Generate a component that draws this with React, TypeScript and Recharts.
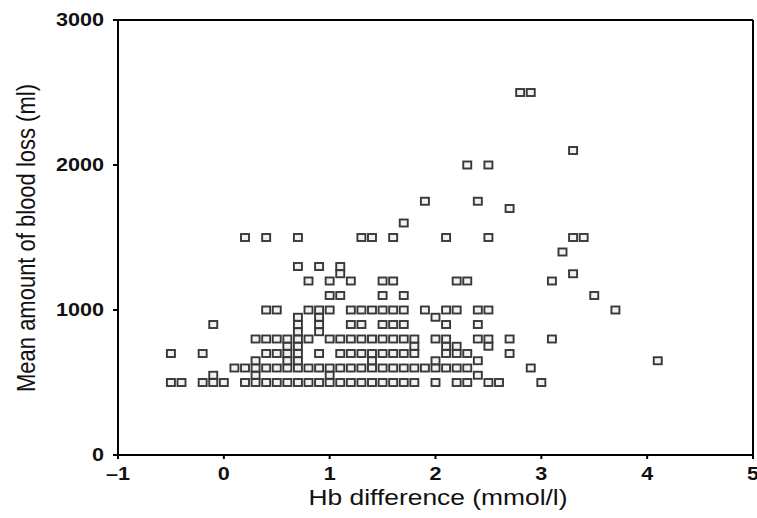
import { ScatterChart, Scatter, XAxis, YAxis, Label, ReferenceLine } from 'recharts';

// blood loss levels (ml) and the Hb differences (mmol/l) seen at each level
const LOSS_LEVELS = [500, 550, 600, 650, 700, 750, 800, 850, 900, 950, 1000, 1100, 1200, 1250, 1300, 1400, 1500, 1600, 1700, 1750, 2000, 2100, 2500];

const hbAt500 = [-0.5, -0.4, -0.2, -0.1, 0.0, 0.2, 0.3, 0.4, 0.5, 0.6, 0.7, 0.8, 0.9, 1.0, 1.1, 1.2, 1.3, 1.4, 1.5, 1.6, 1.7, 1.8, 2.0, 2.2, 2.3, 2.5, 2.6, 3.0];
const hbAt550 = [-0.1, 0.3, 1.0, 2.4];
const hbAt600 = [0.1, 0.2, 0.3, 0.4, 0.5, 0.6, 0.7, 0.8, 0.9, 1.0, 1.1, 1.2, 1.3, 1.4, 1.5, 1.6, 1.7, 1.8, 1.9, 2.0, 2.1, 2.2, 2.3, 2.9];
const hbAt650 = [0.3, 0.6, 0.7, 1.4, 2.0, 2.4, 4.1];
const hbAt700 = [-0.5, -0.2, 0.4, 0.5, 0.6, 0.7, 0.9, 1.1, 1.2, 1.3, 1.4, 1.5, 1.6, 1.7, 1.8, 2.1, 2.2, 2.3, 2.7];
const hbAt750 = [0.6, 0.7, 1.8, 2.1, 2.2, 2.5];
const hbAt800 = [0.3, 0.4, 0.5, 0.6, 0.7, 0.8, 1.0, 1.1, 1.2, 1.3, 1.4, 1.5, 1.6, 1.7, 1.8, 2.0, 2.1, 2.4, 2.5, 2.7, 3.1];
const hbAt850 = [0.7, 0.9];
const hbAt900 = [-0.1, 0.7, 0.9, 1.2, 1.3, 1.5, 1.6, 1.7, 2.1, 2.4];
const hbAt950 = [0.7, 0.9, 2.0];
const hbAt1000 = [0.4, 0.5, 0.8, 0.9, 1.0, 1.2, 1.3, 1.4, 1.5, 1.6, 1.7, 1.9, 2.1, 2.2, 2.4, 2.5, 3.7];
const hbAt1100 = [1.0, 1.1, 1.5, 1.7, 3.5];
const hbAt1200 = [0.8, 1.0, 1.2, 1.5, 1.6, 2.2, 2.3, 3.1];
const hbAt1250 = [1.1, 3.3];
const hbAt1300 = [0.7, 0.9, 1.1];
const hbAt1400 = [3.2];
const hbAt1500 = [0.2, 0.4, 0.7, 1.3, 1.4, 1.6, 2.1, 2.5, 3.3, 3.4];
const hbAt1600 = [1.7];
const hbAt1700 = [2.7];
const hbAt1750 = [1.9, 2.4];
const hbAt2000 = [2.3, 2.5];
const hbAt2100 = [3.3];
const hbAt2500 = [2.8, 2.9];

const HB_BY_LEVEL = [
  hbAt500, hbAt550, hbAt600, hbAt650, hbAt700, hbAt750, hbAt800, hbAt850, hbAt900, hbAt950,
  hbAt1000, hbAt1100, hbAt1200, hbAt1250, hbAt1300, hbAt1400, hbAt1500, hbAt1600, hbAt1700,
  hbAt1750, hbAt2000, hbAt2100, hbAt2500,
];

const X_TICKS = [-1, 0, 1, 2, 3, 4, 5];
const Y_TICKS = [0, 1000, 2000, 3000];

const data = LOSS_LEVELS.flatMap((loss, i) => HB_BY_LEVEL[i].map((hb) => ({ hb, loss })));

const FONT = '"Liberation Sans", Arial, sans-serif';
const STRETCH = 1.2; // the source image is a bit wider than tall

const SquareMarker = (props: any) => {
  const { cx, cy } = props;
  if (cx == null || cy == null) return null;
  return <rect x={cx - 4} y={cy - 3.5} width={8} height={7} fill="#f2f2f2" stroke="#383838" strokeWidth={1.9} />;
};

const XTick = ({ x, y, payload }: any) => (
  <g transform={`translate(${x},${y}) scale(${STRETCH},1)`}>
    <text x={0} y={19} textAnchor="middle" fontSize={18} fontWeight="bold" fontFamily={FONT} fill="#111">
      {String(payload.value).replace('-', '\u2013')}
    </text>
  </g>
);

const YTick = ({ x, y, payload }: any) => (
  <g transform={`translate(${x - 7},${y}) scale(${STRETCH},1)`}>
    <text x={0} y={6} textAnchor="end" fontSize={18} fontWeight="bold" fontFamily={FONT} fill="#111">
      {payload.value}
    </text>
  </g>
);

const XTitle = () => (
  <g transform={`translate(438,505) scale(${STRETCH},1)`}>
    <text x={0} y={0} textAnchor="middle" fontSize={22} fontFamily={FONT} fill="#111">
      Hb difference (mmol/l)
    </text>
  </g>
);

const YTitle = () => (
  <g transform={`translate(35,238) scale(${STRETCH},1) rotate(-90)`}>
    <text x={0} y={0} textAnchor="middle" fontSize={22} fontFamily={FONT} fill="#111">
      Mean amount of blood loss (ml)
    </text>
  </g>
);

export default function App() {
  return (
    <div style={{ position: 'absolute', left: 0, top: 0, background: '#fff' }}>
      <ScatterChart width={757} height={518} margin={{ top: 20, right: 4, left: 0, bottom: 0 }}>
        <XAxis
          type="number"
          dataKey="hb"
          domain={[-1, 5]}
          ticks={X_TICKS}
          allowDataOverflow
          height={63}
          axisLine={{ stroke: '#000', strokeWidth: 2 }}
          tickLine={{ stroke: '#000', strokeWidth: 2 }}
          tickSize={4}
          tick={<XTick />}
        >
          <Label content={<XTitle />} />
        </XAxis>
        <YAxis
          type="number"
          dataKey="loss"
          domain={[0, 3000]}
          ticks={Y_TICKS}
          allowDataOverflow
          width={118}
          axisLine={{ stroke: '#000', strokeWidth: 2 }}
          tickLine={{ stroke: '#000', strokeWidth: 2 }}
          tickSize={5}
          tick={<YTick />}
        >
          <Label content={<YTitle />} />
        </YAxis>
        <ReferenceLine y={3000} stroke="#000" strokeWidth={2} />
        <ReferenceLine x={5} stroke="#000" strokeWidth={2} />
        <Scatter data={data} shape={<SquareMarker />} isAnimationActive={false} />
      </ScatterChart>
    </div>
  );
}
